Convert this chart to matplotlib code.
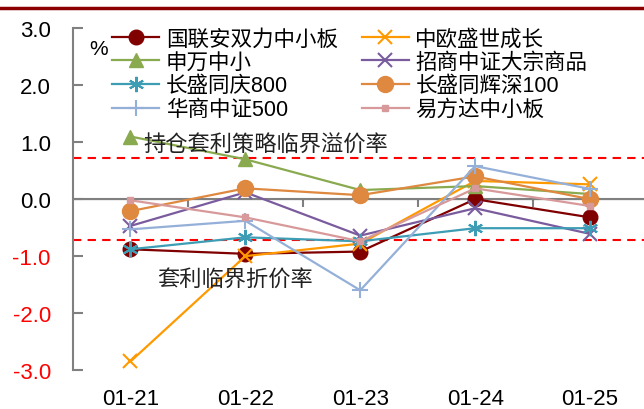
import matplotlib
matplotlib.use("Agg")
import matplotlib.pyplot as plt
from matplotlib.lines import Line2D

plt.rcParams["font.family"] = ["Liberation Sans", "Noto Sans CJK SC"]
plt.rcParams["axes.unicode_minus"] = False

# 数据
日期 = ["01-21", "01-22", "01-23", "01-24", "01-25"]
国联安双力中小板 = [-0.88, -0.96, -0.92, 0.00, -0.32]
中欧盛世成长 = [-2.85, -1.00, -0.78, 0.32, 0.26]
申万中小 = [1.10, 0.70, 0.16, 0.23, 0.09]
招商中证大宗商品 = [-0.47, 0.12, -0.64, -0.16, -0.61]
长盛同庆800 = [-0.88, -0.67, -0.74, -0.51, -0.51]
长盛同辉深100 = [-0.21, 0.19, 0.07, 0.40, 0.00]
华商中证500 = [-0.53, -0.38, -1.60, 0.58, 0.18]
易方达中小板 = [-0.02, -0.32, -0.74, 0.19, -0.12]
溢价阈值 = 0.72
折价阈值 = -0.72

系列 = [
    ("国联安双力中小板", 国联安双力中小板, "#800000", "o", 10.5, 1.6),
    ("中欧盛世成长", 中欧盛世成长, "#FF9900", "x", 10, 1.6),
    ("申万中小", 申万中小, "#8AAA50", "^", 10.5, 1.6),
    ("招商中证大宗商品", 招商中证大宗商品, "#7A5C9E", "x", 10, 1.6),
    ("长盛同庆800", 长盛同庆800, "#3C9DB5", (6, 2, 0), 11, 1.6),
    ("长盛同辉深100", 长盛同辉深100, "#DE8840", "o", 11.5, 1.6),
    ("华商中证500", 华商中证500, "#95B0D8", "+", 12, 1.6),
    ("易方达中小板", 易方达中小板, "#D8999A", "s", 4, 1.6),
]

fig = plt.figure(figsize=(6.44, 4.10), dpi=100)
ax = fig.add_axes([0.1134, 0.0951, 0.892, 0.8334])

x = list(range(len(日期)))
lineas = {}
for nombre, valores, color, marca, tam, ancho in 系列:
    mew = 1.5 if marca in ("x", "+", (6, 2, 0)) else 1
    (l,) = ax.plot(x, valores, color=color, marker=marca, markersize=tam,
                   linewidth=ancho, markeredgewidth=mew, label=nombre)
    lineas[nombre] = l

# 临界线
ax.axhline(溢价阈值, color="red", linestyle=(0, (4, 3)), linewidth=1.5, zorder=0)
ax.axhline(折价阈值, color="red", linestyle=(0, (4, 3)), linewidth=1.5, zorder=0)
ax.axhline(0, color="#808080", linewidth=1.5, zorder=0.5)

ax.text(0.11, 0.94, "持仓套利策略临界溢价率", fontsize=16, va="center", ha="left", color="#222222")
ax.text(0.23, -1.40, "套利临界折价率", fontsize=16, va="center", ha="left", color="#222222")
ax.text(0.028, 0.94, "%", transform=ax.transAxes, fontsize=15, va="center", ha="left")

ax.set_xlim(-0.5, 4.5)
ax.set_ylim(-3.0, 3.0)
ax.set_yticks([3, 2, 1, 0, -1, -2, -3])
ax.set_yticklabels([f"{v:.1f}" for v in [3, 2, 1, 0, -1, -2, -3]])
for etiqueta, v in zip(ax.get_yticklabels(), [3, 2, 1, 0, -1, -2, -3]):
    if v < 0:
        etiqueta.set_color("red")
ax.tick_params(axis="y", direction="in", length=7, width=1.5, color="#808080",
               labelsize=16, pad=16)
ax.set_xticks(x)
ax.set_xticklabels(日期)
ax.tick_params(axis="x", length=0, labelsize=16, pad=13)

for lado in ("top", "right", "bottom"):
    ax.spines[lado].set_visible(False)
ax.spines["left"].set_color("#808080")
ax.spines["left"].set_linewidth(1.5)

# 零轴上的分隔刻度
eje0 = ax.secondary_xaxis(0.5)
eje0.set_xticks([])
eje0.set_xticks([0.5, 1.5, 2.5, 3.5], minor=True)
eje0.tick_params(which="minor", direction="in", length=6, width=1.5, color="#808080")
eje0.spines["bottom"].set_visible(False)

orden = ["国联安双力中小板", "申万中小", "长盛同庆800", "华商中证500",
         "中欧盛世成长", "招商中证大宗商品", "长盛同辉深100", "易方达中小板"]
ax.legend([lineas[n] for n in orden], orden, ncol=2, loc="upper left",
          bbox_to_anchor=(0.068, 1.0), frameon=False, fontsize=15.5,
          handlelength=2.2, handletextpad=0.3, columnspacing=1.1,
          labelspacing=0.12, borderpad=0, borderaxespad=0)

# 顶部标题下划线
fig.add_artist(Line2D([0, 1], [0.977, 0.977], transform=fig.transFigure,
                      color="#8B0000", linewidth=2.5))

fig.savefig("out.png", dpi=100)
